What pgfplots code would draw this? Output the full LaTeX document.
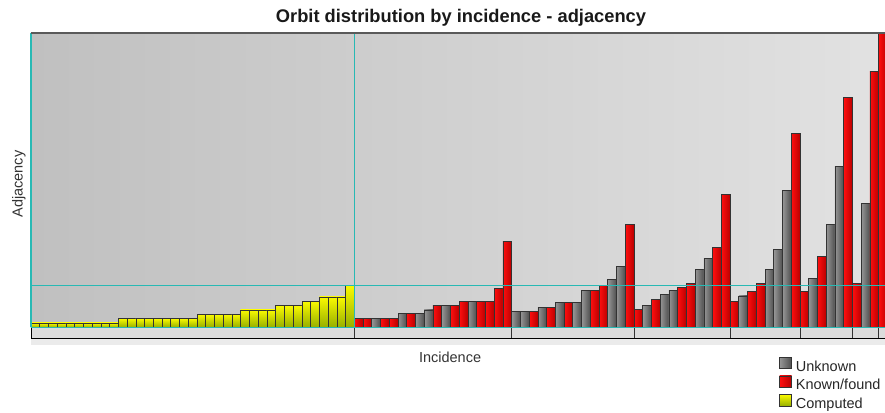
\documentclass[border=0pt]{standalone}
\usepackage{fontspec}
\setmainfont{Liberation Sans}
\usepackage{pgfplots}
\pgfplotsset{compat=1.18}

\definecolor{bgl}{RGB}{192,192,192}
\definecolor{bgr}{RGB}{226,226,226}
\definecolor{crossc}{RGB}{40,185,180}
\definecolor{framec}{RGB}{90,90,90}
\definecolor{strip}{RGB}{220,220,220}
\definecolor{grayL}{RGB}{150,150,150}
\definecolor{grayD}{RGB}{78,78,78}
\definecolor{redL}{RGB}{255,15,15}
\definecolor{redD}{RGB}{185,0,0}
\definecolor{yelT}{RGB}{250,250,0}
\definecolor{yelB}{RGB}{150,175,0}

% one shaded bar per point, hanging down from the data point to y=0
\pgfdeclareplotmark{emptymark}{}
\pgfplotsset{
  shbar/.style={
    scatter, only marks, mark=emptymark,
    visualization depends on={rawy \as \rawy},
    scatter/@pre marker code/.code={%
      \draw[#1, draw=black!80, line width=0.7pt]
        (-4.37pt,0pt) rectangle (4.37pt,{-\rawy*4.34969pt});
    },
    scatter/@post marker code/.code={},
    legend image code/.code={\draw[#1, draw=black!80, line width=0.7pt] (0pt,-1.5pt) rectangle (12pt,10pt);},
  },
}

\begin{document}
\begin{tikzpicture}[x=1pt,y=1pt]
\useasboundingbox (0,0) rectangle (885,412);
% band under the plot area
\fill[black!8] (31,67) rectangle (890,73.7);
\fill[strip] (31,73.7) rectangle (890,84.7);
\draw[black, line width=1pt] (31,84.7) -- (31,73.7) -- (890,73.7);

\begin{axis}[
  at={(31pt,84.7pt)}, anchor=south west,
  scale only axis, width=856.4pt, height=294.3pt,
  xmin=-0.5, xmax=97.5, ymin=0, ymax=67.66,
  axis line style={draw=none},
  axis background/.style={left color=bgl, right color=bgr},
  xtick={36.5,54.5,68.5,79.5,87.5,93.5,96.5}, xticklabels={},
  xtick pos=bottom, ytick=\empty,
  tick align=outside, major tick length=10.8pt,
  tick style={black!80, line width=0.9pt},
  font=\fontsize{14.5}{17}\selectfont,
  title={Orbit distribution by incidence - adjacency},
  title style={at={(0.5021,1)}, anchor=base, yshift=4pt,
    font=\fontsize{18.3}{21}\selectfont\bfseries, text=black!90},
  xlabel={Incidence},
  xlabel style={at={(0.4893,0)}, anchor=base, yshift=-35.4pt, text=black!80},
  ylabel={Adjacency},
  ylabel style={at={(-0.0099,0.487)}, anchor=base, rotate=0, text=black!80},
  legend cell align=left,
  legend style={at={(0.8734,-0.10)}, anchor=north west, draw=none, fill=none,
    inner sep=0pt, row sep=0pt, column sep=3pt, text=black!85,
    font=\fontsize{14.5}{17}\selectfont,
    nodes={inner sep=1pt, text height=11pt, text depth=3.5pt}},
  after end axis/.code={
    \draw[crossc, line width=1.2pt] (axis cs:-0.5,0) -- (axis cs:-0.5,67.66);
    \draw[crossc, line width=1.2pt] (axis cs:-0.5,0) -- (axis cs:97.5,0);
    \draw[draw=crossc, line width=1.3pt] (axis cs:-0.5,9.6) -- (axis cs:97.5,9.6);
    \draw[crossc, line width=1.2pt] (axis cs:36.5,0) -- (axis cs:36.5,67.66);
    \draw[framec, line width=1.2pt] (axis cs:-0.5,67.66) -- (axis cs:97.5,67.66);
  },
]

% Unknown
\addplot[shbar={left color=grayL, right color=grayD}] coordinates {
  (39,2.1) (42,3.2) (44,3.2) (45,4.0) (47,5.0) (50,6.0)
  (55,3.6) (56,3.6) (58,4.6) (60,5.8) (62,5.8) (63,8.4) (66,11.1) (67,14.0)
  (70,5.0) (72,7.5) (73,8.4) (76,13.3) (77,15.8)
  (81,7.2) (84,13.4) (85,18.0) (86,31.4)
  (89,11.3) (91,23.7) (92,36.9)
  (95,28.5)
};
\addlegendentry{Unknown}

% Known/found
\addplot[shbar={left color=redL, right color=redD}] coordinates {
  (37,2.1) (38,2.1) (40,2.1) (41,2.1) (43,3.2) (46,5.0) (48,5.0) (49,6.0)
  (51,6.0) (52,6.0) (53,9.0) (54,19.8)
  (57,3.6) (59,4.6) (61,5.8) (64,8.4) (65,9.7) (68,23.6)
  (69,4.1) (71,6.5) (74,9.2) (75,10.0) (78,18.3) (79,30.5)
  (80,6.0) (82,8.2) (83,10.1) (87,44.6)
  (88,8.2) (90,16.2) (93,52.9)
  (94,10.1) (96,58.8) (97,67.66)
};
\addlegendentry{Known/found}

% Computed
\addplot[shbar={top color=yelT, bottom color=yelB}] coordinates {
  (0,1) (1,1) (2,1) (3,1) (4,1) (5,1) (6,1) (7,1) (8,1) (9,1)
  (10,2) (11,2) (12,2) (13,2) (14,2) (15,2) (16,2) (17,2) (18,2)
  (19,3) (20,3) (21,3) (22,3) (23,3)
  (24,4) (25,4) (26,4) (27,4)
  (28,5) (29,5) (30,5)
  (31,6) (32,6)
  (33,7) (34,7) (35,7)
  (36,9.6)
};
\addlegendentry{Computed}
\end{axis}
\end{tikzpicture}
\end{document}
